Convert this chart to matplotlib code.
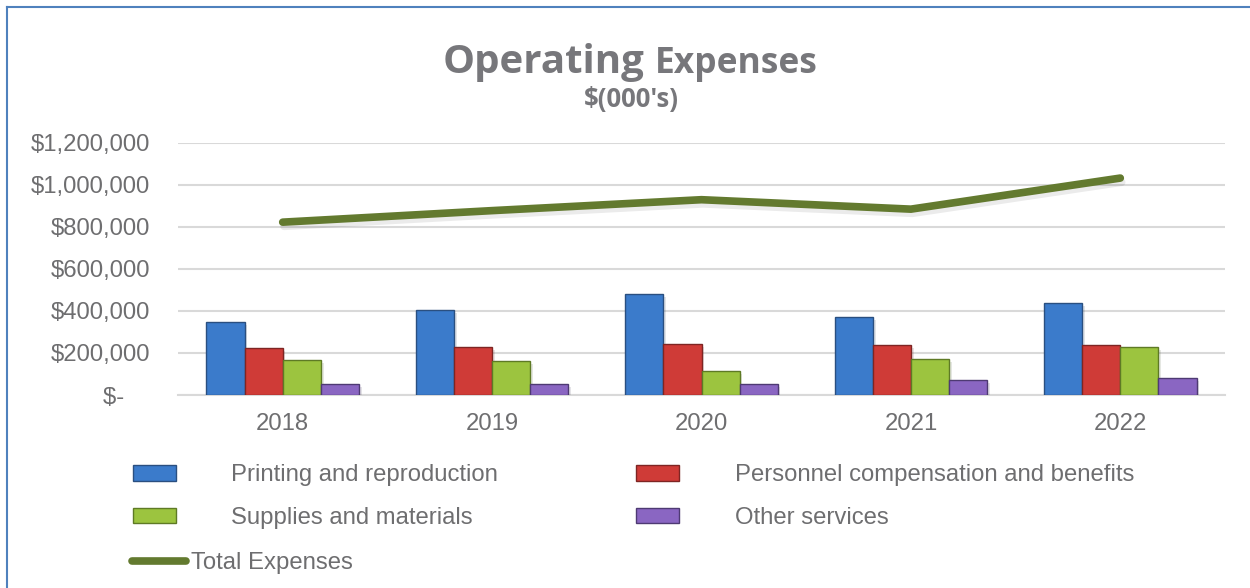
import numpy as np
import matplotlib
matplotlib.use("Agg")
import matplotlib.pyplot as plt
import matplotlib.patheffects as pe
from matplotlib.lines import Line2D
from matplotlib.patches import Patch
from matplotlib.ticker import FuncFormatter

# data, $ thousands
years = ["2018", "2019", "2020", "2021", "2022"]
printing = [347000, 405000, 481000, 371000, 438000]
personnel = [224000, 229000, 243000, 238000, 238000]
supplies = [167000, 162000, 114000, 171000, 229000]
other = [52000, 52000, 52000, 71000, 81000]
total = [823000, 878000, 930000, 885000, 1033000]

series_names = ["Printing and reproduction", "Personnel compensation and benefits",
                "Supplies and materials", "Other services"]
series_vals = [printing, personnel, supplies, other]
colors = ["#3b7bcb", "#cf3b37", "#9cc43f", "#8a66c2"]
edges = ["#2a4f80", "#7e2523", "#5e7a25", "#4e3a73"]
line_color = "#637a2f"
text_gray = "#6e6e70"
fs = 17.2

plt.rcParams["font.family"] = ["Liberation Sans", "DejaVu Sans"]

fig = plt.figure(figsize=(12.5, 5.88), dpi=100)
ax = fig.add_axes([178 / 1250, 1 - 395 / 588, 1047 / 1250, 252 / 588])

x = np.arange(len(years))
bw = 0.182
shadow = [pe.SimplePatchShadow(offset=(2, -2), alpha=0.12), pe.Normal()]
for i, (name, vals) in enumerate(zip(series_names, series_vals)):
    offs = (i - 1.5) * bw
    ax.bar(x + offs, vals, width=bw, color=colors[i], edgecolor=edges[i],
           linewidth=1.0, label=name, zorder=3, path_effects=shadow)

ax.plot(x, total, color=line_color, linewidth=5.5, solid_capstyle="round",
        solid_joinstyle="miter", zorder=4, label="Total Expenses",
        path_effects=[pe.SimpleLineShadow(offset=(1, -3), alpha=0.08), pe.Normal()])

ax.set_xlim(-0.5, len(years) - 0.5)
ax.set_ylim(0, 1200000)
ax.set_yticks(np.arange(0, 1200001, 200000))
ax.yaxis.set_major_formatter(FuncFormatter(
    lambda v, p: "$-    " if v == 0 else "${:,.0f}".format(v)))
ax.set_xticks(x)
ax.set_xticklabels(years)
ax.tick_params(axis="both", length=0, labelsize=fs, colors=text_gray)
ax.tick_params(axis="y", pad=20)
ax.tick_params(axis="x", pad=13)
ax.grid(axis="y", color="#d9d9d9", linewidth=1.5, zorder=0)
ax.set_axisbelow(True)
for side in ["top", "right", "left"]:
    ax.spines[side].set_visible(False)
ax.spines["bottom"].set_color("#d9d9d9")
ax.spines["bottom"].set_linewidth(1.5)

# title: two sizes on one line
fig.text(0.5155, 1 - 73 / 588, "Operating", ha="right", va="baseline",
         fontsize=29, fontweight="bold", color="#77777b", family="Open Sans")
fig.text(0.5235, 1 - 73 / 588, "Expenses", ha="left", va="baseline",
         fontsize=25.5, fontweight="bold", color="#77777b", family="Open Sans")
fig.text(0.5055, 1 - 107 / 588, "$(000's)", ha="center", va="baseline",
         fontsize=18.5, fontweight="bold", color="#77777b", family="Open Sans")

# legend: bars in two columns, line below
bar_handles = [Patch(facecolor=colors[i], edgecolor=edges[i]) for i in range(4)]
leg1 = fig.legend([bar_handles[0], bar_handles[2], bar_handles[1], bar_handles[3]],
                  [series_names[0], series_names[2], series_names[1], series_names[3]],
                  ncol=2, loc="upper left", bbox_to_anchor=(111 / 1250, 1 - 443 / 588),
                  frameon=False, fontsize=fs, labelcolor=text_gray,
                  handlelength=1.8, handleheight=0.6, handletextpad=2.32,
                  columnspacing=5.8, labelspacing=0.87)
leg2 = fig.legend([Line2D([], [], color=line_color, linewidth=5.5, solid_capstyle="round")],
                  ["Total Expenses"], loc="upper left",
                  bbox_to_anchor=(110 / 1250, 1 - 531 / 588), frameon=False,
                  fontsize=fs, labelcolor=text_gray, handlelength=2.3,
                  handletextpad=0.2)

# blue frame on left and top
fig.add_artist(Line2D([7 / 1250, 7 / 1250], [0, 1 - 7 / 588], color="#4f81bd",
                      linewidth=1.5, transform=fig.transFigure))
fig.add_artist(Line2D([7 / 1250, 1], [1 - 7 / 588, 1 - 7 / 588], color="#4f81bd",
                      linewidth=1.5, transform=fig.transFigure))

fig.savefig("out.png", dpi=100, facecolor="white")
